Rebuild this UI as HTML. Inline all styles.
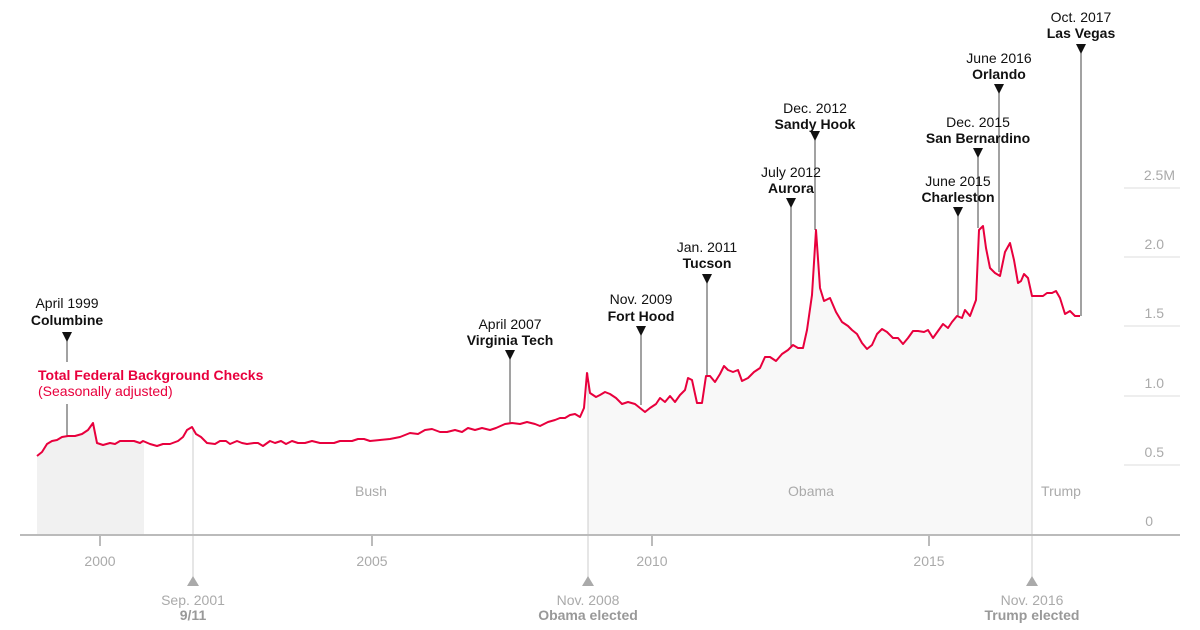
<!DOCTYPE html>
<html><head><meta charset="utf-8"><style>
body{margin:0;background:#fff}
svg{display:block;font-family:"Liberation Sans",sans-serif}
.ev{font-size:14px;fill:#111;text-anchor:middle}
.b{font-weight:bold}
.g{font-size:14px;fill:#aaa;text-anchor:middle}
.gb{font-size:14px;fill:#999;text-anchor:middle;font-weight:bold}
.yl{font-size:14px;fill:#aaa;text-anchor:end}
</style></head><body>
<svg width="1200" height="630" viewBox="0 0 1200 630">
<path d="M37,456 L42,452 L47,444 L52,441 L57,440 L62,437 L68,436 L75,436 L82,434 L88,430 L93,423 L97,443 L103,445 L110,443 L115,444 L120,441 L127,441 L134,441 L140,443 L144,441 L144,535 L37,535Z" fill="#f1f1f1"/>
<path d="M588,535 L588,380 L590,393 L596,397 L600,395 L605,392 L610,394 L616,398 L622,404 L628,402 L635,404 L640,408 L645,412 L650,408 L656,404 L660,398 L665,402 L670,396 L675,402 L680,395 L685,390 L688,378 L692,380 L697,403 L702,403 L706,376 L710,376 L715,382 L720,374 L724,366 L728,370 L733,372 L738,370 L742,381 L748,378 L754,372 L760,368 L765,357 L770,357 L776,361 L782,354 L788,350 L793,345 L798,348 L803,348 L807,330 L812,295 L816,230 L820,288 L824,301 L830,298 L836,312 L842,322 L848,326 L852,330 L857,334 L862,343 L867,349 L872,345 L877,334 L882,329 L887,332 L893,338 L898,338 L903,344 L908,338 L913,331 L918,331 L924,332 L928,330 L933,338 L938,331 L943,324 L948,328 L952,322 L957,316 L962,318 L965,310 L970,316 L973,308 L976,300 L979,230 L983,226 L986,248 L990,268 L995,273 L1000,276 L1005,252 L1010,243 L1014,260 L1018,283 L1021,281 L1024,274 L1028,278 L1032,296 L1032,535Z" fill="#f8f8f8"/>
<line x1="1124" y1="188" x2="1180" y2="188" stroke="#ddd"/>
<line x1="1124" y1="257" x2="1180" y2="257" stroke="#ddd"/>
<line x1="1124" y1="326" x2="1180" y2="326" stroke="#ddd"/>
<line x1="1124" y1="396" x2="1180" y2="396" stroke="#ddd"/>
<line x1="1124" y1="465" x2="1180" y2="465" stroke="#ddd"/>
<text class="yl" x="1175" y="180">2.5M</text>
<text class="yl" x="1164" y="249">2.0</text>
<text class="yl" x="1164" y="318">1.5</text>
<text class="yl" x="1164" y="388">1.0</text>
<text class="yl" x="1164" y="457">0.5</text>
<text class="yl" x="1153" y="526">0</text>
<g stroke="#ccc" stroke-width="1">
<line x1="193" y1="427" x2="193" y2="580"/>
<line x1="588" y1="373" x2="588" y2="580"/>
<line x1="1032" y1="296" x2="1032" y2="580"/>
</g>
<g fill="#aaa">
<path d="M187,586 L199,586 L193,576Z"/>
<path d="M582,586 L594,586 L588,576Z"/>
<path d="M1026,586 L1038,586 L1032,576Z"/>
</g>
<text class="g" x="193" y="605">Sep. 2001</text><text class="gb" x="193" y="620">9/11</text>
<text class="g" x="588" y="605">Nov. 2008</text><text class="gb" x="588" y="620">Obama elected</text>
<text class="g" x="1032" y="605">Nov. 2016</text><text class="gb" x="1032" y="620">Trump elected</text>
<text class="g" x="371" y="496">Bush</text>
<text class="g" x="811" y="496">Obama</text>
<text class="g" x="1061" y="496">Trump</text>
<line x1="20" y1="535" x2="1180" y2="535" stroke="#bbb" stroke-width="2"/>
<g stroke="#bbb" stroke-width="2">
<line x1="100" y1="535" x2="100" y2="546"/><line x1="372" y1="535" x2="372" y2="546"/><line x1="652" y1="535" x2="652" y2="546"/><line x1="929" y1="535" x2="929" y2="546"/>
</g>
<text class="g" x="100" y="566">2000</text><text class="g" x="372" y="566">2005</text><text class="g" x="652" y="566">2010</text><text class="g" x="929" y="566">2015</text>
<g stroke="#444" stroke-width="1">
<line x1="67" y1="340" x2="67" y2="362"/><line x1="67" y1="404" x2="67" y2="437"/>
<line x1="510" y1="358" x2="510" y2="423"/>
<line x1="641" y1="334" x2="641" y2="405"/>
<line x1="707" y1="282" x2="707" y2="376"/>
<line x1="791" y1="206" x2="791" y2="348"/>
<line x1="815" y1="139" x2="815" y2="230"/>
<line x1="958" y1="215" x2="958" y2="316"/>
<line x1="978" y1="156" x2="978" y2="228"/>
<line x1="999" y1="92" x2="999" y2="272"/>
<line x1="1081" y1="52" x2="1081" y2="316"/>
</g>
<g fill="#111">
<path d="M62,332 L72,332 L67,342Z"/>
<path d="M505,350 L515,350 L510,360Z"/>
<path d="M636,326 L646,326 L641,336Z"/>
<path d="M702,274 L712,274 L707,284Z"/>
<path d="M786,198 L796,198 L791,208Z"/>
<path d="M810,131 L820,131 L815,141Z"/>
<path d="M953,207 L963,207 L958,217Z"/>
<path d="M973,148 L983,148 L978,158Z"/>
<path d="M994,84 L1004,84 L999,94Z"/>
<path d="M1076,44 L1086,44 L1081,54Z"/>
</g>
<text class="ev" x="67" y="308">April 1999</text><text class="ev b" x="67" y="325">Columbine</text>
<text class="ev" x="510" y="329">April 2007</text><text class="ev b" x="510" y="345">Virginia Tech</text>
<text class="ev" x="641" y="304">Nov. 2009</text><text class="ev b" x="641" y="321">Fort Hood</text>
<text class="ev" x="707" y="252">Jan. 2011</text><text class="ev b" x="707" y="268">Tucson</text>
<text class="ev" x="791" y="177">July 2012</text><text class="ev b" x="791" y="193">Aurora</text>
<text class="ev" x="815" y="113">Dec. 2012</text><text class="ev b" x="815" y="129">Sandy Hook</text>
<text class="ev" x="958" y="186">June 2015</text><text class="ev b" x="958" y="202">Charleston</text>
<text class="ev" x="978" y="127">Dec. 2015</text><text class="ev b" x="978" y="143">San Bernardino</text>
<text class="ev" x="999" y="63">June 2016</text><text class="ev b" x="999" y="79">Orlando</text>
<text class="ev" x="1081" y="22">Oct. 2017</text><text class="ev b" x="1081" y="38">Las Vegas</text>
<text x="38" y="380" font-size="14" font-weight="bold" fill="#e8003d">Total Federal Background Checks</text>
<text x="38" y="396" font-size="14" fill="#e8003d">(Seasonally adjusted)</text>
<polyline fill="none" stroke="#e8003d" stroke-width="2" stroke-linejoin="round" points="37,456 42,452 47,444 52,441 57,440 62,437 68,436 75,436 82,434 88,430 93,423 97,443 103,445 110,443 115,444 120,441 127,441 134,441 140,443 143,441 150,444 157,446 163,444 170,444 178,441 183,437 187,430 192,427 196,434 201,437 207,443 215,444 220,441 226,441 230,444 237,441 242,443 247,444 254,443 258,443 263,446 270,441 275,443 281,441 286,444 292,441 298,443 305,443 312,441 320,443 327,443 334,443 340,441 346,441 352,441 358,439 364,439 370,441 380,440 390,439 400,437 410,433 418,434 425,430 432,429 440,432 447,432 455,430 462,432 468,428 475,430 482,428 490,430 496,428 505,424 512,423 520,424 527,422 535,424 540,426 548,422 555,420 560,418 565,418 570,415 575,414 580,417 584,408 587,373 590,393 596,397 600,395 605,392 610,394 616,398 622,404 628,402 635,404 640,408 645,412 650,408 656,404 660,398 665,402 670,396 675,402 680,395 685,390 688,378 692,380 697,403 702,403 706,376 710,376 715,382 720,374 724,366 728,370 733,372 738,370 742,381 748,378 754,372 760,368 765,357 770,357 776,361 782,354 788,350 793,345 798,348 803,348 807,330 812,295 816,230 820,288 824,301 830,298 836,312 842,322 848,326 852,330 857,334 862,343 867,349 872,345 877,334 882,329 887,332 893,338 898,338 903,344 908,338 913,331 918,331 924,332 928,330 933,338 938,331 943,324 948,328 952,322 957,316 962,318 965,310 970,316 973,308 976,300 979,230 983,226 986,248 990,268 995,273 1000,276 1005,252 1010,243 1014,260 1018,283 1021,281 1024,274 1028,278 1032,296 1037,296 1043,296 1047,293 1052,293 1056,291 1060,298 1065,314 1070,311 1075,316 1080,316"/>
</svg>
</body></html>
